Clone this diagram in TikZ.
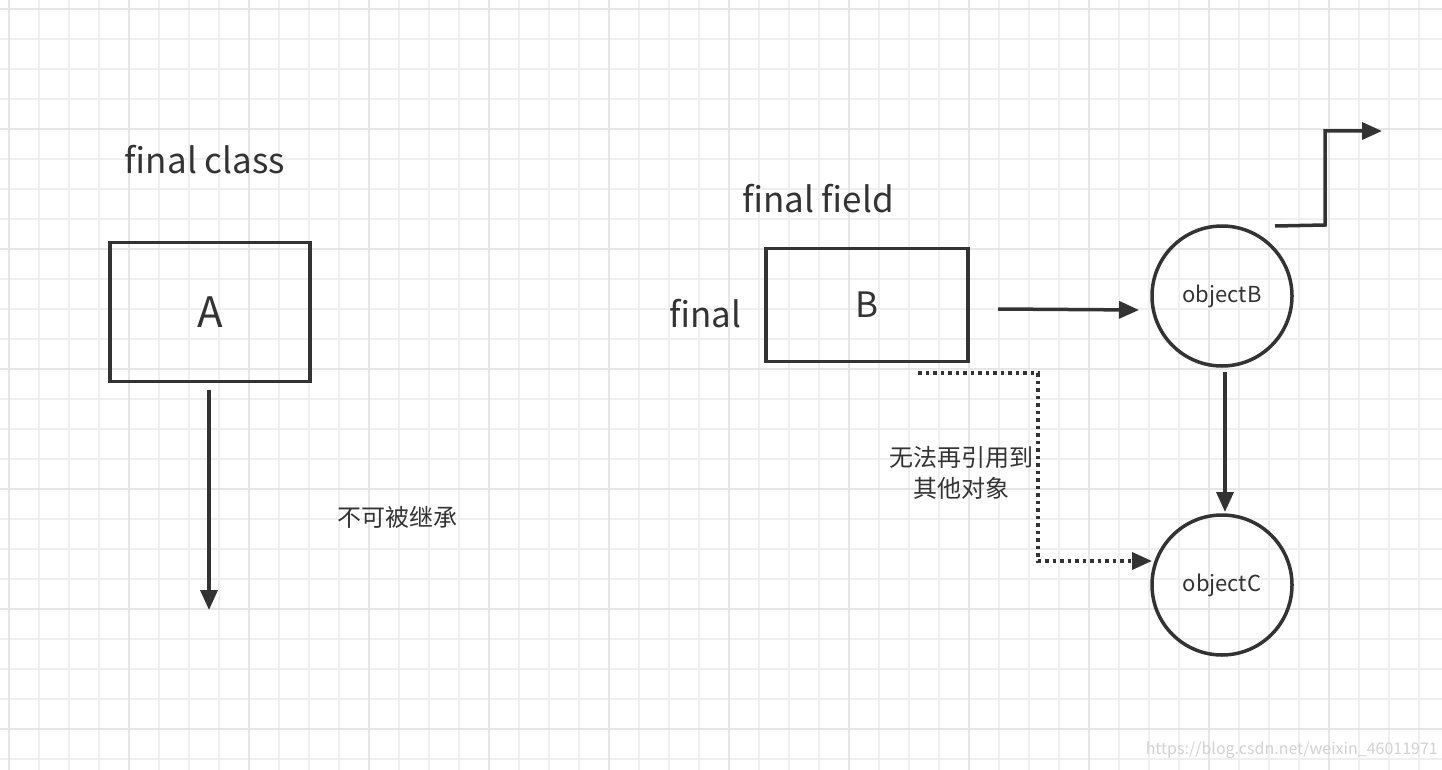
\documentclass[tikz,border=0pt]{standalone}
\usepackage{fontspec}
\setmainfont{Noto Sans CJK SC}
\usetikzlibrary{arrows.meta}
\definecolor{ink}{HTML}{333333}
\definecolor{gminor}{HTML}{EFEFEF}
\definecolor{gmajor}{HTML}{E6E6E6}
\begin{document}
\begin{tikzpicture}[x=1pt,y=-1pt,
  box/.style={draw=ink,line width=3.5pt,minimum width=200pt,minimum height=139pt,inner sep=0},
  obj/.style={draw=ink,line width=3.5pt,circle,minimum size=140pt,inner sep=0,font=\fontsize{22}{26}\selectfont,text=ink},
  con/.style={draw=ink,line width=3.5pt,-{Triangle[length=20pt,width=17pt]}},
  lbl/.style={text=ink,inner sep=0}]
\useasboundingbox (0,0) rectangle (1442,770);
\fill[white] (0,0) rectangle (1442,770);
\foreach \i in {0,...,48} {\draw[gminor,line width=2pt] (9+30*\i,0) -- (9+30*\i,770);}
\foreach \i in {0,...,25} {\draw[gminor,line width=2pt] (0,9+30*\i) -- (1442,9+30*\i);}
\foreach \i in {0,...,12} {\draw[gmajor,line width=2.5pt] (9+120*\i,0) -- (9+120*\i,770);}
\foreach \i in {0,...,6} {\draw[gmajor,line width=2.5pt] (0,9+120*\i) -- (1442,9+120*\i);}
\node[lbl,font=\fontsize{35}{40}\selectfont] (tc) at (205,160) {final class};
\node[box,font=\fontsize{42}{48}\selectfont,text=ink] (A) at (210,312) {A};
\coordinate (a1) at (209,390); \coordinate (a2) at (209,610);
\draw[con] (a1) -- (a2);
\node[lbl,font=\fontsize{24}{28}\selectfont] (t1) at (397,517) {不可被继承};
\node[lbl,font=\fontsize{35}{40}\selectfont] (tf) at (818,199) {final field};
\node[lbl,font=\fontsize{35}{40}\selectfont] (tfinal) at (705,314) {final};
\node[box,minimum width=202pt,minimum height=113pt,font=\fontsize{35}{40}\selectfont,text=ink] (B) at (867,305) {B};
\node[obj] (oB) at (1222,296) {objectB};
\node[obj] (oC) at (1222,585) {objectC};
\coordinate (b1) at (998,309); \coordinate (b2) at (1139,310);
\draw[con] (b1) -- (b2);
\coordinate (c1) at (1225,372); \coordinate (c2) at (1225,512);
\draw[con] (c1) -- (c2);
\coordinate (d1) at (1275,226); \coordinate (d2) at (1382,131);
\draw[con] (d1) -- (1325,225) |- (d2);
\coordinate (e1) at (918,373); \coordinate (e2) at (1152,561);
\draw[con,line width=3.5pt,dash pattern=on 3.5pt off 4pt] (e1) -- (1038,373) |- (e2);
\node[lbl,font=\fontsize{24}{31}\selectfont,align=center] (t2) at (961,473) {无法再引用到\\其他对象};
\node[lbl,font=\fontsize{16}{20}\selectfont,text=black!18,anchor=east] (wm) at (1438,750) {https://blog.csdn.net/weixin\_46011971};
\end{tikzpicture}
\end{document}
